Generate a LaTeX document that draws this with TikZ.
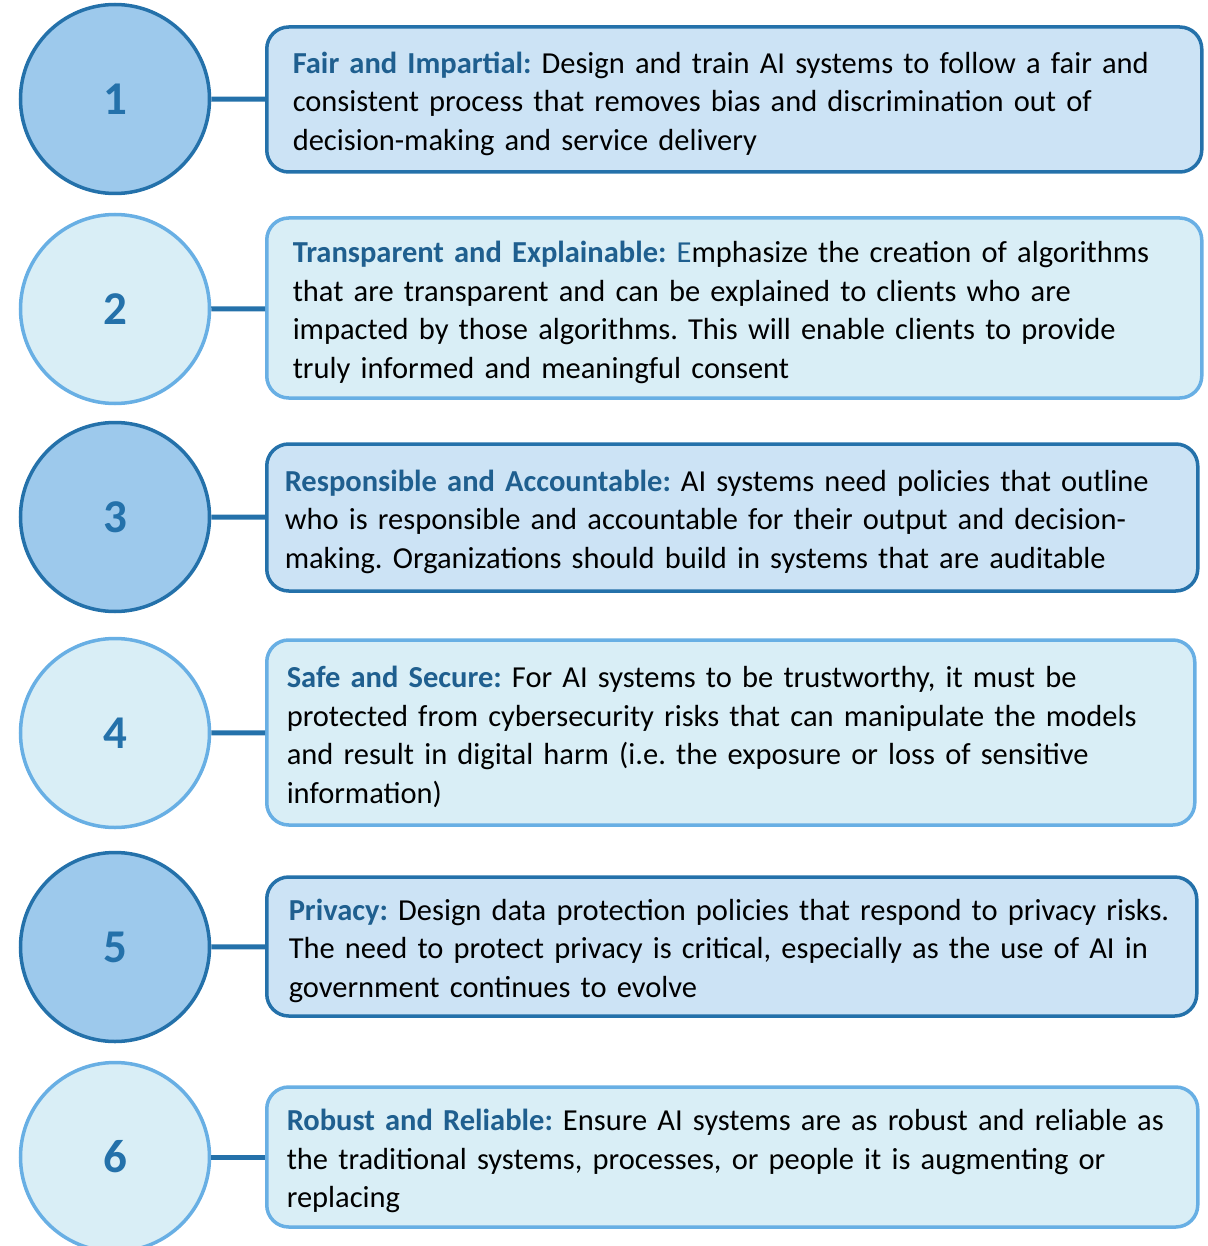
\documentclass[tikz,border=0pt]{standalone}
\usepackage{fontspec}
\setmainfont{Carlito}
\usetikzlibrary{positioning}

\definecolor{deepblue}{HTML}{2471AA}
\definecolor{paleblue}{HTML}{68AFE4}
\definecolor{circfill}{HTML}{9DC9EC}
\definecolor{boxfill}{HTML}{CCE3F5}
\definecolor{lightfill}{HTML}{D9EEF6}
\definecolor{headblue}{HTML}{1F5F8F}

\tikzset{
	numdark/.style={circle, draw=deepblue, fill=circfill, line width=3.5pt, minimum size=189pt, inner sep=0pt,
		text=deepblue, font=\fontsize{47}{47}\selectfont\bfseries},
	numlight/.style={numdark, draw=paleblue, fill=lightfill},
	boxdark/.style={draw=deepblue, fill=boxfill, line width=3.5pt, rounded corners=22pt, anchor=west,
		align=left, inner ysep=0pt, font=\fontsize{30.5}{38.5}\selectfont\frenchspacing},
	boxlight/.style={boxdark, draw=paleblue, fill=lightfill},
	link/.style={draw=deepblue, line width=5pt}
}
% heading of a box, with a taller first line so the text sits a bit lower
\newcommand{\head}[1]{\rule{0pt}{30pt}\textcolor{headblue}{\textbf{#1}}}

\begin{document}
\begin{tikzpicture}[x=1pt, y=-1pt]
			%%%%% START %%%%%
			\useasboundingbox (0, 0) rectangle (1207, 1246);
			
			\node[numdark] (c1) at (115, 99) {1};
			\node[boxdark, text width=883pt, inner xsep=26pt, minimum height=145pt] (b1) at (265, 99.5)
				{\head{Fair and Impartial:} Design and train AI systems to follow a fair and\\
				consistent process that removes bias and discrimination out of\\
				decision-making and service delivery};
			\draw[link] (c1) -- (b1);
			
			\node[numlight] (c2) at (115, 309) {2};
			\node[boxlight, text width=883pt, inner xsep=26pt, minimum height=180pt] (b2) at (265, 308)
				{\head{Transparent and Explainable:} \textcolor{headblue}{E}mphasize the creation of algorithms\\
				that are transparent and can be explained to clients who are\\
				impacted by those algorithms. This will enable clients to provide\\
				truly informed and meaningful consent};
			\draw[link] (c2) -- (b2);
			
			\node[numdark] (c3) at (115, 517) {3};
			\node[boxdark, text width=895pt, inner xsep=18pt, minimum height=147pt] (b3) at (265, 517.5)
				{\head{Responsible and Accountable:} AI systems need policies that outline\\
				who is responsible and accountable for their output and decision-\\
				making. Organizations should build in systems that are auditable};
			\draw[link] (c3) -- (b3);
			
			\node[numlight] (c4) at (115, 733) {4};
			\node[boxlight, text width=888pt, inner xsep=20pt, minimum height=185pt] (b4) at (265, 732.5)
				{\head{Safe and Secure:} For AI systems to be trustworthy, it must be\\
				protected from cybersecurity risks that can manipulate the models\\
				and result in digital harm (i.e. the exposure or loss of sensitive\\
				information)};
			\draw[link] (c4) -- (b4);
			
			\node[numdark] (c5) at (115, 947) {5};
			\node[boxdark, text width=886pt, inner xsep=22pt, minimum height=139pt] (b5) at (265, 946.5)
				{\head{Privacy:} Design data protection policies that respond to privacy risks.\\
				The need to protect privacy is critical, especially as the use of AI in\\
				government continues to evolve};
			\draw[link] (c5) -- (b5);
			
			\node[numlight] (c6) at (115, 1157) {6};
			\node[boxlight, text width=891pt, inner xsep=20pt, minimum height=140pt] (b6) at (265, 1157)
				{\head{Robust and Reliable:} Ensure AI systems are as robust and reliable as\\
				the traditional systems, processes, or people it is augmenting or\\
				replacing};
			\draw[link] (c6) -- (b6);
			
			%%%%% END %%%%%
\end{tikzpicture}
\end{document}
